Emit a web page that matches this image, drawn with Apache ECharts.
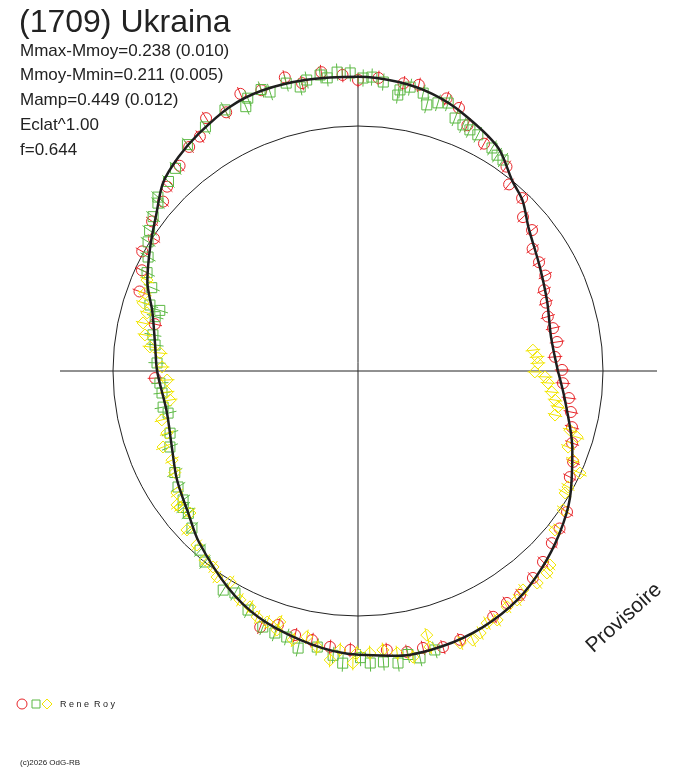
<!DOCTYPE html>
<html>
<head>
<meta charset="utf-8">
<script src="https://cdn.jsdelivr.net/npm/echarts@6/dist/echarts.min.js"></script>
<style>
html, body { margin: 0; padding: 0; background: #fff; }
#chart { width: 688px; height: 768px; }
</style>
</head>
<body>
<div id="chart"></div>
<script>
// courbe moyenne : [rayon, phase en degres]
var CURVE = [[0.816,0],[0.800,10],[0.822,20],[0.856,30],[0.909,40],[0.967,46],[1.000,51],[1.077,58],[1.136,68],[1.171,75],[1.191,82],[1.201,90],
  [1.207,100],[1.210,109],[1.198,116],[1.166,124],[1.140,130],[1.106,136],[1.044,142],[0.989,149],[0.934,157],[0.873,164],[0.834,173],[0.820,180],
  [0.798,192],[0.820,202],[0.862,211],[0.904,220],[0.953,227],[1.031,239],[1.084,248],[1.123,258],[1.153,267],[1.174,278],[1.175,287],[1.163,296],
  [1.138,305],[1.100,313],[1.057,321],[1.009,329],[0.931,340],[0.853,352],[0.816,360]];

// points mesures (ronds rouges)
var RED = [[1.083,136],[1.110,131],[1.145,127],[1.154,124],[1.204,121],[1.185,117],[1.229,113],[1.212,109],[1.235,104],[1.197,101],[1.229,97],
  [1.210,93],[1.188,90],[1.199,86],[1.189,81],[1.194,78],[1.170,72],[1.150,69],[1.098,66],[1.061,61],[1.031,54],[0.980,51],
  [1.054,139],[1.039,144],[0.993,147],[1.007,151],[0.973,155],[0.949,160],[0.851,167],[0.829,182],
  [0.973,46.5],[0.921,43],[0.914,39],[0.870,35],[0.862,31],[0.858,27],[0.828,23.5],[0.816,20],[0.806,16],[0.815,12.4],[0.821,8.3],[0.806,4.1],
  [0.833,0.3],[0.838,356.6],[0.868,352.7],[0.885,349.1],[0.903,345.3],[0.922,341.4],[0.953,337.1],[0.967,333.4],
  [1.029,326],[1.044,322],[1.058,318.4],[1.085,314.1],[1.106,310.2],[1.128,305.9],[1.125,302.7],[1.145,298.8],[1.174,290.8],[1.179,287.1],
  [1.161,283.2],[1.164,279.9],[1.145,275.9],[1.139,268.4],[1.132,264.2],[1.114,260.3],[1.108,256.6],[1.087,252.5],[1.119,249.1]];

// carres verts
var GREEN = [[1.082,139],[1.094,135],[1.113,132],[1.157,127],[1.175,122],[1.196,117],[1.172,113],[1.201,112],[1.215,109],[1.194,107.5],[1.211,104],
  [1.183,101.5],[1.206,100],[1.218,97.3],[1.203,96],[1.223,94],[1.217,91.5],[1.196,89],[1.201,87.3],[1.184,85],[1.160,81.5],[1.138,81.8],[1.178,79.6],
  [1.165,76.8],[1.122,75.5],[1.142,73.4],[1.154,71.4],[1.106,69],[1.092,66.9],[1.085,65.1],[1.081,63.1],[1.062,59],[1.048,57.2],[1.045,55.5],
  [1.066,140],[1.047,143],[1.026,146],[1.006,148.4],[0.975,151.5],[0.950,155],[0.908,158],[0.891,162.4],[0.846,163],[0.857,165],[0.850,170],
  [0.835,172.7],[0.821,177.7],[0.810,183.5],[0.805,186.4],[0.809,190.5],[0.794,192.5],[0.808,198.3],[0.828,202],[0.855,209],[0.874,212.8],
  [0.887,216.4],[0.904,220],[0.905,218],[0.933,223.4],[0.975,228.6],[0.999,231.3],[1.050,238.4],[1.036,241],[1.074,245.3],[1.115,249.6],
  [1.122,252.4],[1.124,255],[1.157,257.8],[1.139,261.6],[1.165,265],[1.194,267],[1.170,270.5],[1.193,272.4],[1.192,275],[1.203,277.8],
  [1.175,280],[1.198,282.2],[1.181,285.4]];

// losanges jaunes
var YELLOW = [[0.938,156.7],[0.926,160],[0.920,162.4],[0.893,164.6],[0.899,167.4],[0.882,170.4],[0.855,173.4],[0.811,174.8],[0.800,178.8],
  [0.780,182.7],[0.784,186.3],[0.776,188.8],[0.825,194],[0.820,198],[0.854,201.3],[0.842,205.6],[0.855,209],[0.891,214],[0.914,217.4],[0.898,220.2],
  [0.919,216.5],[0.953,222.9],[0.968,227.2],[0.993,231],[0.995,233.5],[1.019,235.6],[1.007,238.8],[1.051,242.7],[1.059,245.4],[1.085,247.7],
  [1.090,250.1],[1.073,252.7],[1.108,252.6],[1.129,256.4],[1.105,259.1],[1.139,261.6],[1.185,264.5],[1.141,266.3],[1.192,269],[1.151,269.8],
  [1.152,272.4],[1.143,275.1],[1.162,277.9],[1.189,280.9],[1.114,284.6],[1.164,284.6],[1.186,290.6],[1.194,293.1],[1.180,295],[1.156,297.1],
  [1.164,299.2],[1.139,302.3],[1.138,304.8],[1.119,307],[1.133,310.2],[1.129,313.1],[1.114,314.7],
  [1.033,321.1],[1.011,325.9],[0.981,329.5],[0.979,331.1],[0.997,335.3],[0.950,337.5],[0.912,340.1],[0.934,343.2],[0.898,344.4],
  [0.719,6.8],[0.733,4.5],[0.735,2.5],[0.722,359.7],[0.764,358.2],[0.777,356.4],[0.796,353.8],[0.813,351.6],[0.829,349.8],[0.824,347.4]];

var INFO = ['Mmax-Mmoy=0.238 (0.010)', 'Mmoy-Mmin=0.211 (0.005)', 'Mamp=0.449 (0.012)', 'Eclat^1.00', 'f=0.644'];

var CX = 358, CY = 371, R = 245, RMAX = 1.25;
var FONT = '"Liberation Sans", Arial, sans-serif';

function marks(shape, color, size, err) {
	return function(params, api) {
		var r = api.value(0), a = api.value(1);
		var p = api.coord([r, a]);
		var p0 = api.coord([r - err, a]);
		var p1 = api.coord([r + err, a]);
		var h = size / 2;
		var st = { stroke: color, fill: 'transparent', lineWidth: 1 };
		var sym;
		if (shape === 'circle') {
			sym = { type: 'circle', shape: { cx: p[0], cy: p[1], r: h }, style: st };
		}
		else if (shape === 'rect') {
			sym = { type: 'rect', shape: { x: p[0] - h, y: p[1] - h, width: size, height: size }, style: st };
		}
		else {
			sym = { type: 'polygon', shape: { points: [[p[0], p[1] - h], [p[0] + h, p[1]], [p[0], p[1] + h], [p[0] - h, p[1]]] }, style: st };
		}
		return {
			type: 'group',
			children: [
				{ type: 'line', shape: { x1: p0[0], y1: p0[1], x2: p1[0], y2: p1[1] }, style: { stroke: color, lineWidth: 1 } },
				sym
			]
		};
	};
}

var graphics = [
	{ type: 'line', z: 1, shape: { x1: CX - 298, y1: CY, x2: CX + 299, y2: CY }, style: { stroke: '#222', lineWidth: 1 } },
	{ type: 'line', z: 1, shape: { x1: CX, y1: CY - 296, x2: CX, y2: CY + 279 }, style: { stroke: '#222', lineWidth: 1 } },
	{ type: 'text', left: 19, top: 7, style: { text: '(1709) Ukraina', font: '32px ' + FONT, fill: '#222' } },
	{ type: 'circle', shape: { cx: 22, cy: 704, r: 5 }, style: { stroke: '#e8262a', fill: 'transparent', lineWidth: 1 } },
	{ type: 'rect', shape: { x: 32, y: 700, width: 8, height: 8 }, style: { stroke: '#5cb944', fill: 'transparent', lineWidth: 1 } },
	{ type: 'polygon', shape: { points: [[47, 699], [52, 704], [47, 709], [42, 704]] }, style: { stroke: '#f2e600', fill: 'transparent', lineWidth: 1 } },
	{ type: 'text', x: 60, y: 705, style: { text: 'R e n e  R o y', font: '9px ' + FONT, fill: '#222', verticalAlign: 'middle' } },
	{ type: 'text', x: 20, y: 763, style: { text: '(c)2026 OdG-RB', font: '8px ' + FONT, fill: '#222', verticalAlign: 'middle' } },
	{ type: 'text', x: 624, y: 618, rotation: 42 * Math.PI / 180,
		style: { text: 'Provisoire', font: '21px ' + FONT, fill: '#222', align: 'center', verticalAlign: 'middle' } }
];
for (var i = 0; i < INFO.length; i++) {
	graphics.push({ type: 'text', x: 20, y: 51 + i * 24.8,
		style: { text: INFO[i], font: '17px ' + FONT, fill: '#222', verticalAlign: 'middle' } });
}

var myChart = echarts.init(document.getElementById('chart'));
myChart.setOption({
	animation: false,
	backgroundColor: '#fff',
	graphic: graphics,
	polar: { center: [CX, CY], radius: R * RMAX },
	angleAxis: {
		type: 'value', min: 0, max: 360, startAngle: 0, clockwise: false,
		axisLine: { show: false }, axisTick: { show: false }, axisLabel: { show: false }, splitLine: { show: false }
	},
	radiusAxis: {
		type: 'value', min: 0, max: RMAX, interval: 1,
		axisLine: { show: false }, axisTick: { show: false }, axisLabel: { show: false },
		// seul le cercle de rayon 1 est visible
		splitLine: { show: true, lineStyle: { color: ['transparent', '#222', 'transparent'], width: 1 } }
	},
	series: [
		{ type: 'custom', coordinateSystem: 'polar', encode: { radius: 0, angle: 1 }, data: RED, renderItem: marks('circle', '#e8262a', 11, 0.03), z: 3, silent: true },
		{ type: 'custom', coordinateSystem: 'polar', encode: { radius: 0, angle: 1 }, data: GREEN, renderItem: marks('rect', '#5cb944', 10, 0.035), z: 3, silent: true },
		{ type: 'custom', coordinateSystem: 'polar', encode: { radius: 0, angle: 1 }, data: YELLOW, renderItem: marks('diamond', '#f2e600', 12, 0.03), z: 3, silent: true },
		{ type: 'line', coordinateSystem: 'polar', data: CURVE, smooth: 0.3, symbol: 'none', clip: false, silent: true,
			lineStyle: { color: '#1e1e1e', width: 2.5 }, z: 5 }
	]
});
</script>
</body>
</html>
